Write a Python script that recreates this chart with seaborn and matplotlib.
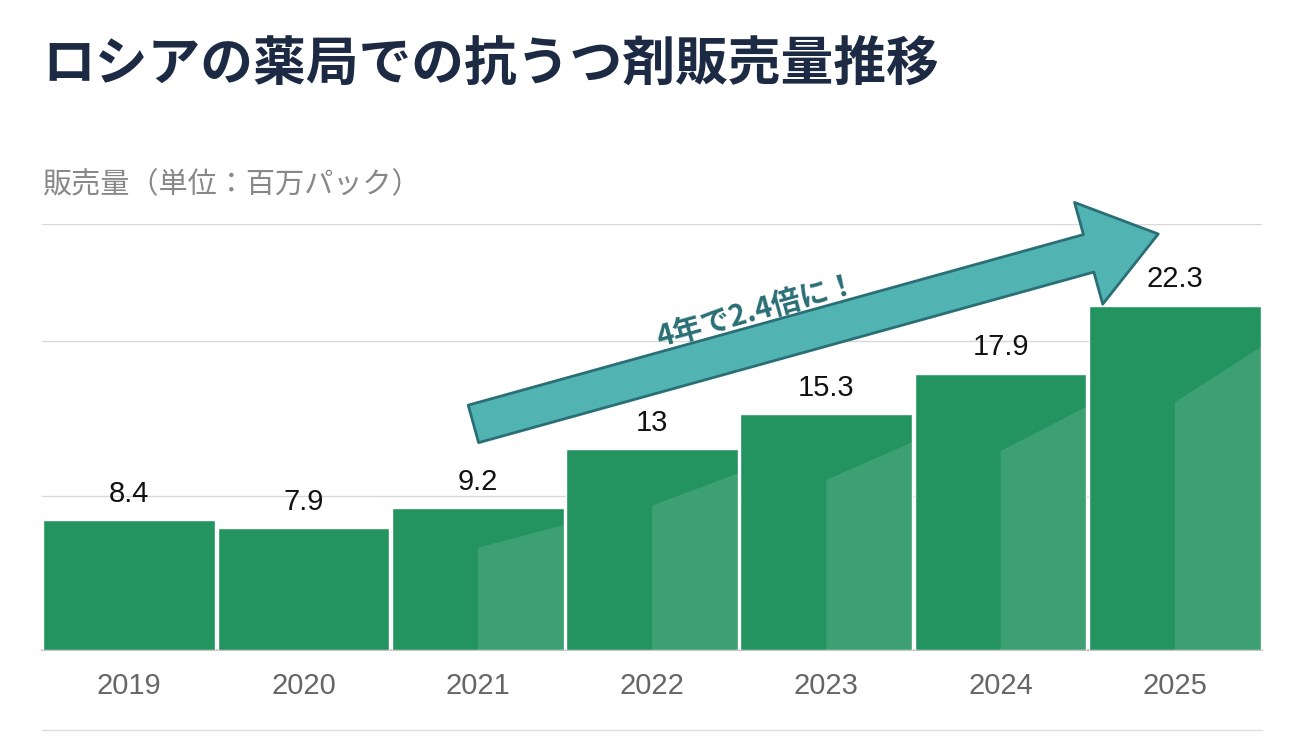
import numpy as np
import pandas as pd
import matplotlib
matplotlib.use("Agg")
import matplotlib.pyplot as plt
import seaborn as sns

years = ["2019", "2020", "2021", "2022", "2023", "2024", "2025"]
sales = [8.4, 7.9, 9.2, 13, 15.3, 17.9, 22.3]
value_labels = ["8.4", "7.9", "9.2", "13", "15.3", "17.9", "22.3"]

sns.set_theme(style="white")
plt.rcParams["font.family"] = ["Noto Sans CJK JP", "DejaVu Sans"]
latin = ["Liberation Sans", "DejaVu Sans"]

fig = plt.figure(figsize=(13.12, 7.38), dpi=100)
ax = fig.add_axes([42 / 1312, 1 - 650 / 738, 1220 / 1312, 426 / 738])

df = pd.DataFrame({"year": years, "sales": sales})
sns.barplot(data=df, x="year", y="sales", color="#23935f", saturation=1,
            width=0.985, ax=ax, zorder=3)

# soft lighter overlay on the right-hand bars
for i, p in enumerate(ax.patches):
    if i >= 2:
        x0, w, h = p.get_x(), p.get_width(), p.get_height()
        ax.fill([x0 + w * 0.5, x0 + w, x0 + w, x0 + w * 0.5],
                [0, 0, h * 0.88, h * 0.72], color="white", alpha=0.12, zorder=4, lw=0)

ax.set_ylim(0, 27.6)
ax.set_xlim(-0.5, 6.5)
for g in [10, 20, 27.6]:
    ax.axhline(g, color="#d9d9d9", lw=1, zorder=1)
for s in ["top", "right", "left"]:
    ax.spines[s].set_visible(False)
ax.spines["bottom"].set_color("#bbbbbb")
ax.set_yticks([])
ax.set_xlabel("")
ax.set_ylabel("")
ax.tick_params(axis="x", length=0, pad=16, labelsize=21, labelcolor="#666666")
for lbl in ax.get_xticklabels():
    lbl.set_family(latin)

for i, (v, t) in enumerate(zip(sales, value_labels)):
    ax.text(i, v + 0.8, t, ha="center", va="bottom", fontsize=21, color="#111111",
            family=latin, zorder=5)

ax.annotate("", xy=(5.92, 27.0), xytext=(1.96, 14.6),
            arrowprops=dict(arrowstyle="simple,head_length=1.3,head_width=1.9,tail_width=0.7",
                            fc="#52b3b3", ec="#2a6f75", lw=2, mutation_scale=40),
            zorder=6, annotation_clip=False)
ax.text(3.6, 22.0, "4年で2.4倍に！", rotation=15.5, ha="center", va="center",
        fontsize=21, fontweight="bold", color="#2a6f75", zorder=7)

fig.text(42 / 1312, 1 - 65 / 738, "ロシアの薬局での抗うつ剤販売量推移", fontsize=38,
         fontweight="bold", color="#1c2a44", va="center")
fig.text(42 / 1312, 1 - 185 / 738, "販売量（単位：百万パック）", fontsize=21,
         color="#888888", va="center")
fig.add_artist(plt.Line2D([42 / 1312, 1262 / 1312], [1 - 730 / 738] * 2,
                          color="#dddddd", lw=1))

fig.savefig("out.png", dpi=100)
